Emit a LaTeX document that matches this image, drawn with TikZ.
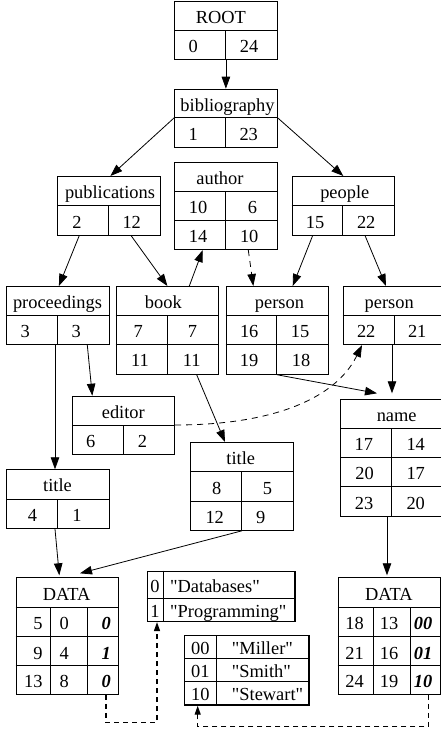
\documentclass[tikz,border=0pt]{standalone}
\usepackage{fontspec}
\setmainfont{Liberation Serif}[Ligatures=TeXOff]
\usetikzlibrary{arrows.meta,calc}

% one record box, placed by its top left corner
\newcommand\recbox[5]{\node[rec,minimum width=#4pt,minimum height=#5pt] (#1) at (#2,#3) {};}

\begin{document}
\begin{tikzpicture}[x=1pt,y=-1pt,
  rec/.style={draw,line width=0.8pt,inner sep=0pt,anchor=north west},
  thickrec/.style={rec,line width=1.4pt},
  cell/.style={line width=0.8pt},
  thickcell/.style={line width=1.4pt},
  lbl/.style={inner sep=0pt,text height=12.6pt,text depth=0pt,yshift=-1.5pt,
    font=\fontsize{18.4pt}{22pt}\selectfont},
  bit/.style={lbl,font=\fontsize{18.4pt}{22pt}\selectfont\bfseries\itshape},
  arr/.style={line width=0.8pt,-{Triangle[length=12pt,width=8.5pt]}},
  darr/.style={arr,dash pattern=on 6pt off 5pt},
  dlow/.style={line width=1.3pt,dash pattern=on 5pt off 4pt,-{Triangle[length=9pt,width=6pt]}}]

\useasboundingbox (0,0) rectangle (441,731);

% ---------- record boxes ----------
\recbox{root}{174.3}{1}{102.4}{58.3}
\draw[cell] (174.3,30.3) -- (276.7,30.3) (225.7,30.3) -- (225.7,59.3);
\node[lbl] (root-h) at (220.8,15.65) {ROOT};
\node[lbl] (root-a) at (193.3,44.8) {0};
\node[lbl] (root-b) at (249,44.8) {24};

\recbox{bib}{174.3}{88.7}{102.4}{58.3}
\draw[cell] (174.3,117.7) -- (276.7,117.7) (225.7,117.7) -- (225.7,147);
\node[lbl] (bib-h) at (227.5,103.2) {bibliography};
\node[lbl] (bib-a) at (193.3,132.35) {1};
\node[lbl] (bib-b) at (248.7,132.35) {23};

\recbox{author}{174.3}{161.7}{102.4}{87.6}
\draw[cell] (174.3,191.7) -- (276.7,191.7) (174.3,220.3) -- (276.7,220.3)
  (225.7,191.7) -- (225.7,249.3);
\node[lbl] (author-h) at (220,176.7) {author};
\node[lbl] (author-a) at (198,206) {10};
\node[lbl] (author-b) at (252.5,206) {6};
\node[lbl] (author-c) at (198,234.8) {14};
\node[lbl] (author-d) at (249.2,234.8) {10};

\recbox{pub}{57.3}{176}{102.4}{58.7}
\draw[cell] (57.3,205.7) -- (159.7,205.7) (108.3,205.7) -- (108.3,234.7);
\node[lbl] (pub-h) at (110,190.85) {publications};
\node[lbl] (pub-a) at (77,220.2) {2};
\node[lbl] (pub-b) at (131.7,220.2) {12};

\recbox{people}{291.7}{176}{102.4}{58.7}
\draw[cell] (291.7,205.7) -- (394.1,205.7) (342.3,205.7) -- (342.3,234.7);
\node[lbl] (people-h) at (344.8,190.85) {people};
\node[lbl] (people-a) at (315,220.2) {15};
\node[lbl] (people-b) at (366.2,220.2) {22};

\recbox{proc}{6.3}{286}{102.4}{58.3}
\draw[cell] (6.3,315) -- (108.7,315) (57.7,315) -- (57.7,344.3);
\node[lbl] (proc-h) at (57.5,300.5) {proceedings};
\node[lbl] (proc-a) at (25.3,329.65) {3};
\node[lbl] (proc-b) at (76.3,329.65) {3};

\recbox{book}{115.7}{286}{102.6}{88}
\draw[cell] (115.7,315) -- (218.3,315) (115.7,344.3) -- (218.3,344.3)
  (167.3,315) -- (167.3,374);
\node[lbl] (book-h) at (163.3,300.5) {book};
\node[lbl] (book-a) at (138.3,329.65) {7};
\node[lbl] (book-b) at (192.5,329.65) {7};
\node[lbl] (book-c) at (140,359.15) {11};
\node[lbl] (book-d) at (191.7,359.15) {11};

\recbox{pers1}{225.7}{286}{102.4}{88}
\draw[cell] (225.7,315) -- (328.1,315) (225.7,344.3) -- (328.1,344.3)
  (276.7,315) -- (276.7,374);
\node[lbl] (pers1-h) at (279.5,300.5) {person};
\node[lbl] (pers1-a) at (249.2,329.65) {16};
\node[lbl] (pers1-b) at (300,329.65) {15};
\node[lbl] (pers1-c) at (249,359.15) {19};
\node[lbl] (pers1-d) at (301,359.15) {18};

\recbox{pers2}{342.7}{286}{102.4}{58.3}
\draw[cell] (342.7,315) -- (445.1,315) (394.3,315) -- (394.3,344.3);
\node[lbl] (pers2-h) at (389.2,300.5) {person};
\node[lbl] (pers2-a) at (366.2,329.65) {22};
\node[lbl] (pers2-b) at (417.2,329.65) {21};

\recbox{editor}{72}{395.7}{102.4}{58.3}
\draw[cell] (72,425) -- (174.4,425) (123.3,425) -- (123.3,454);
\node[lbl] (editor-h) at (123.3,410.35) {editor};
\node[lbl] (editor-a) at (90.8,439.5) {6};
\node[lbl] (editor-b) at (142.5,439.5) {2};

\recbox{ttl2}{190.3}{442}{102.4}{88}
\draw[cell] (190.3,471.7) -- (292.7,471.7) (190.3,501) -- (292.7,501)
  (241.7,471.7) -- (241.7,530);
\node[lbl] (ttl2-h) at (240.8,456.85) {title};
\node[lbl] (ttl2-a) at (216.7,486.35) {8};
\node[lbl] (ttl2-b) at (267.5,486.35) {5};
\node[lbl] (ttl2-c) at (214.7,515.5) {12};
\node[lbl] (ttl2-d) at (260.8,515.5) {9};

\recbox{nm}{340}{399.3}{102.4}{116.4}
\draw[cell] (340,428.3) -- (442.4,428.3) (340,457.3) -- (442.4,457.3)
  (340,486.7) -- (442.4,486.7) (391.7,428.3) -- (391.7,515.7);
\node[lbl] (nm-h) at (396.7,413.8) {name};
\node[lbl] (nm-a) at (363.8,442.8) {17};
\node[lbl] (nm-b) at (415.7,442.8) {14};
\node[lbl] (nm-c) at (364.5,472) {20};
\node[lbl] (nm-d) at (415.7,472) {17};
\node[lbl] (nm-e) at (364,501.2) {23};
\node[lbl] (nm-f) at (415.7,501.2) {20};

\recbox{ttl1}{6.3}{469.3}{102.4}{59}
\draw[cell] (6.3,499) -- (108.7,499) (57.7,499) -- (57.7,528.3);
\node[lbl] (ttl1-h) at (57.5,484.15) {title};
\node[lbl] (ttl1-a) at (32.5,513.65) {4};
\node[lbl] (ttl1-b) at (77,513.65) {1};

% data tables
\recbox{data1}{15.7}{577.3}{102}{116.7}
\draw[cell] (15.7,607.3) -- (117.7,607.3) (15.7,636.7) -- (117.7,636.7)
  (15.7,665.7) -- (117.7,665.7) (50.7,607.3) -- (50.7,694) (87.3,607.3) -- (87.3,694);
\node[lbl] (data1-h) at (66.7,592.3) {DATA};
\node[lbl,anchor=east] (data1-a1) at (42.7,622) {5};
\node[lbl,anchor=west] (data1-a2) at (59.5,622) {0};
\node[bit,anchor=east] (data1-a3) at (111,622) {0};
\node[lbl,anchor=east] (data1-b1) at (42.7,651.2) {9};
\node[lbl,anchor=west] (data1-b2) at (59.5,651.2) {4};
\node[bit,anchor=east] (data1-b3) at (111,651.2) {1};
\node[lbl,anchor=east] (data1-c1) at (42.7,679.85) {13};
\node[lbl,anchor=west] (data1-c2) at (59.5,679.85) {8};
\node[bit,anchor=east] (data1-c3) at (111,679.85) {0};

\recbox{data2}{337.7}{577.3}{102}{116.7}
\draw[cell] (337.7,607.3) -- (439.7,607.3) (337.7,636.7) -- (439.7,636.7)
  (337.7,665.7) -- (439.7,665.7) (373.3,607.3) -- (373.3,694) (410,607.3) -- (410,694);
\node[lbl] (data2-h) at (388.8,592.3) {DATA};
\node[lbl] (data2-a1) at (354.5,622) {18};
\node[lbl] (data2-a2) at (389,622) {13};
\node[bit] (data2-a3) at (423,622) {00};
\node[lbl] (data2-b1) at (354.5,651.2) {21};
\node[lbl] (data2-b2) at (389,651.2) {16};
\node[bit] (data2-b3) at (423,651.2) {01};
\node[lbl] (data2-c1) at (354.5,679.85) {24};
\node[lbl] (data2-c2) at (389,679.85) {19};
\node[bit] (data2-c3) at (423,679.85) {10};

% string dictionaries
\node[thickrec,minimum width=147.8pt,minimum height=50pt] (dbtab) at (146.5,570.7) {};
\draw[thickcell] (146.5,598.7) -- (294.3,598.7) (163.5,570.7) -- (163.5,620.7);
\node[lbl] (dbtab-a1) at (155,584.7) {0};
\node[lbl,anchor=west] (dbtab-a2) at (170,584.7) {"Databases"};
\node[lbl] (dbtab-b1) at (155,609.7) {1};
\node[lbl,anchor=west] (dbtab-b2) at (170,609.7) {"Programming"};

\node[thickrec,minimum width=124.3pt,minimum height=69.3pt] (strs) at (184,635) {};
\draw[thickcell] (184,658.3) -- (308.3,658.3) (184,681.7) -- (308.3,681.7)
  (216.7,635) -- (216.7,704.3);
\node[lbl] (strs-a1) at (200.3,646.65) {00};
\node[lbl,anchor=west] (strs-a2) at (231.7,646.65) {"Miller"};
\node[lbl] (strs-b1) at (200.3,670) {01};
\node[lbl,anchor=west] (strs-b2) at (231.7,670) {"Smith"};
\node[lbl] (strs-c1) at (200.3,693) {10};
\node[lbl,anchor=west] (strs-c2) at (231.7,693) {"Stewart"};

% ---------- connectors ----------
\draw[arr] (root.south) -- (bib.north);
\draw[arr] ([yshift=-29pt]bib.north west) -- ([xshift=1.5pt]pub.north);
\draw[arr] ([yshift=-29pt]bib.north east) -- (people.north);
\draw[arr] ([xshift=22pt]pub.south west) -- ([xshift=1pt]proc.north);
\draw[arr] ([xshift=73.7pt]pub.south west) -- (book.north);
\draw[arr] ([xshift=73.6pt]book.north west) -- ([xshift=28.4pt]author.south west);
\draw[darr] ([xshift=74pt]author.south west) -- ([xshift=27.6pt]pers1.north west);
\draw[arr] ([xshift=21pt]people.south west) -- ([xshift=67pt]pers1.north west);
\draw[arr] ([xshift=73.3pt]people.south west) -- ([xshift=43.3pt]pers2.north west);
\draw[arr] ([xshift=81pt]proc.south west) -- ([xshift=20.3pt]editor.north west);
\draw[arr] ([xshift=48.7pt]proc.south west) -- ([xshift=48.7pt]ttl1.north west);
\draw[arr] ([xshift=81pt]book.south west) -- ([xshift=34.7pt]ttl2.north west);
\draw[arr] (pers1.south) -- ([xshift=37pt,yshift=6pt]nm.north west);
\draw[arr] ([xshift=49.3pt]pers2.south west) -- ([xshift=52pt,yshift=6pt]nm.north west);
\draw[darr] ([yshift=-29.3pt]editor.north east) .. controls (270,425) and (335,400) ..
  ([xshift=19.3pt]pers2.south west);
\draw[arr] ([xshift=47pt]nm.south west) -- ([xshift=49.3pt,yshift=2pt]data2.north west);
\draw[arr] ([xshift=48.7pt]ttl1.south west) -- ([xshift=43.6pt,yshift=2pt]data1.north west);
\draw[arr] (ttl2.south) -- ([xshift=64.3pt,yshift=4pt]data1.north west);
\draw[dlow] ([xshift=90.3pt]data1.south west) -- ++(0,27.7) -| ([xshift=10.5pt]dbtab.south west);
\draw[dlow] ([xshift=90.6pt]data2.south west) -- ++(0,32) -| ([xshift=13.7pt]strs.south west);

\end{tikzpicture}
\end{document}
